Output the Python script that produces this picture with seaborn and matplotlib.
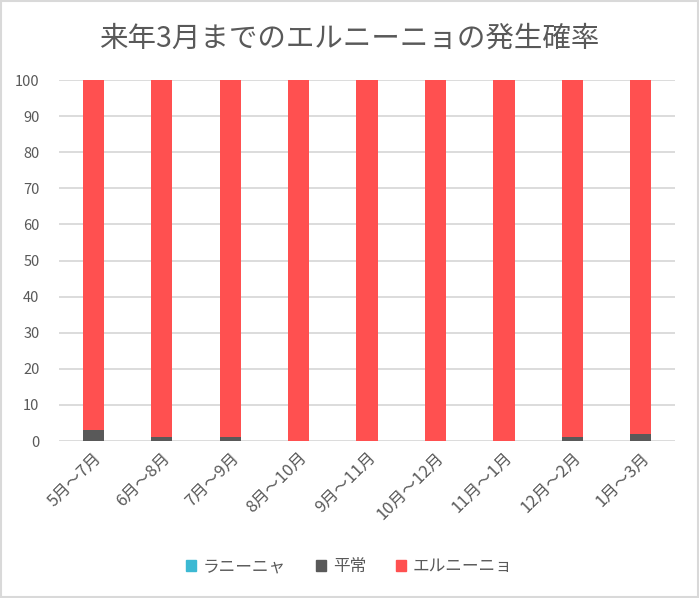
import matplotlib
matplotlib.use("Agg")
import matplotlib.pyplot as plt
import seaborn as sns
import numpy as np
import pandas as pd
from matplotlib.patches import Rectangle

categories = ["5月～7月", "6月～8月", "7月～9月", "8月～10月", "9月～11月",
              "10月～12月", "11月～1月", "12月～2月", "1月～3月"]
la_nina = [0, 0, 0, 0, 0, 0, 0, 0, 0]
normal = [3, 1, 1, 0, 0, 0, 0, 1, 2]
el_nino = [97, 99, 99, 100, 100, 100, 100, 99, 98]
series_names = ["ラニーニャ", "平常", "エルニーニョ"]
colors = ["#3CB9D3", "#595959", "#FF5050"]

sns.set_theme(style="white")
plt.rcParams['font.family'] = ['Noto Sans CJK JP', 'DejaVu Sans']

fig = plt.figure(figsize=(6.99, 5.98), dpi=100)
ax = fig.add_axes([0.0844, 0.2625, 0.8813, 0.6035])

df = pd.DataFrame({"cat": categories, "la": la_nina, "no": normal, "el": el_nino})
b1 = np.array(la_nina)
b2 = b1 + np.array(normal)
sns.barplot(data=df, x="cat", y="la", color=colors[0], width=0.31, ax=ax,
            saturation=1, linewidth=0)
sns.barplot(data=df, x="cat", y="no", color=colors[1], width=0.31, ax=ax,
            saturation=1, bottom=b1, linewidth=0)
sns.barplot(data=df, x="cat", y="el", color=colors[2], width=0.31, ax=ax,
            saturation=1, bottom=b2, linewidth=0)
if ax.get_legend() is not None:
    ax.get_legend().remove()

ax.set_ylim(0, 100)
ax.set_xlim(-0.5, len(categories) - 0.5)
ax.set_yticks(range(0, 101, 10))
ax.yaxis.grid(True, color="#D9D9D9", linewidth=1.3)
ax.set_axisbelow(True)
for s in ax.spines.values():
    s.set_visible(False)
ax.set_xlabel("")
ax.set_ylabel("")
ax.tick_params(axis="both", length=0, colors="#595959", labelsize=10.5)
ax.tick_params(axis="y", pad=14)
ax.tick_params(axis="x", labelsize=12, pad=6)
for lbl in ax.get_xticklabels():
    lbl.set_rotation(45)
    lbl.set_ha("right")
    lbl.set_rotation_mode("anchor")
    lbl.set_color("#595959")

fig.text(0.5, 0.935, "来年3月までのエルニーニョの発生確率", ha="center", va="center",
         fontsize=20.5, color="#595959")

handles = [Rectangle((0, 0), 1, 1, color=c) for c in colors]
leg = fig.legend(handles, series_names, loc="center", bbox_to_anchor=(0.5, 0.052),
                 ncol=3, frameon=False, fontsize=12, handlelength=0.6,
                 handleheight=0.6, handletextpad=0.4, columnspacing=1.8)
for t in leg.get_texts():
    t.set_color("#595959")

fig.patches.append(Rectangle((0.001, 0.001), 0.998, 0.998, transform=fig.transFigure,
                             fill=False, edgecolor="#D9D9D9", linewidth=1.5))

fig.savefig("out.png", dpi=100)
